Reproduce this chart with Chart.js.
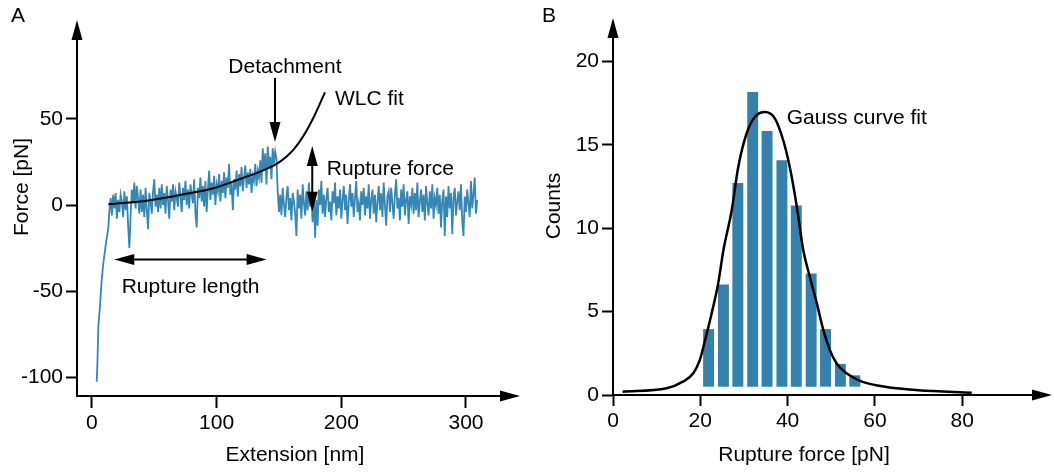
<!DOCTYPE html>
<html>
<head>
<meta charset="utf-8">
<script src="https://cdn.jsdelivr.net/npm/chart.js@4.4.1/dist/chart.umd.min.js"></script>
<style>
  html, body { margin: 0; padding: 0; background: #fff; }
  #wrap { display: flex; width: 1054px; height: 475px; }
</style>
</head>
<body>
<div id="wrap">
  <canvas id="forceCurveChart" width="527" height="475"></canvas>
  <canvas id="histogramChart" width="527" height="475"></canvas>
</div>
<script>
// ---- panel A: force-extension curve ----
const APPROACH_EXT = [3.8, 4.4, 5.1, 6.4, 7.8, 9.1, 11.2, 13.1];
const APPROACH_FORCE = [-102.7, -91.1, -70.8, -59.1, -43.6, -33.9, -22.3, -13.4];

// retract trace, one sample per nm starting at 14 nm
const TRACE_START = 14;
const TRACE_STEP = 1;
const TRACE_FORCE = [
  -3, 4, -6, 6, -2, 7, -8, 3, -4, 6,
  2, -7, 8, -3, 5, -12, -25, -6, 9, 1,
  13, -2, 11, 4, -5, 9, -4, 6, -7, 10,
  -3, -14, 7, 2, -5, 8, 15, -1, 6, -4,
  10, -2, 12, 0, 7, -5, 11, 3, -8, 9,
  2, 12, -3, 8, 4, -1, 13, 5, -4, 10,
  3, 14, 0, 9, -2, 12, 6, 1, 15, -5,
  -13, 10, 4, 16, 2, 11, -1, 14, -4, 9,
  20, 3, 13, 6, 17, 0, 12, 8, 18, 2,
  14, 7, 19, 4, 16, 10, 24, 6, 13, -3,
  15, 9, 20, 5, 18, 11, 22, 8, 16, 23,
  10, 19, 12, 21, 7, 17, 14, 24, 11, 20,
  16, 26, 13, 33, 20, 30, 12, 34, 22, 28,
  15, 33, 24, 31, 27,
  8, -4, 6, -6, 10, 0, -7, 5, 11, -3,
  4, -9, 7, 2, -5, -18, 9, -2, 6, -8,
  12, 1, -6, 8, -3, 13, -1, 5, -10, 7,
  -19, 3, -12, 9, 0, 14, -5, 6, -7, 4,
  10, -4, 2, -9, 8, 1, 13, -6, 5, -2,
  9, -8, 3, 11, -3, 6, -11, 2, 12, -1,
  7, -7, 4, 14, -4, 1, -9, 8, 0, 10,
  -6, 5, -2, 12, -8, 3, 9, -5, 6, -10,
  2, 11, -3, 7, -7, 13, 0, -12, 5, 8,
  -4, 10, 1, -8, 6, 15, -2, 4, -9, 9,
  -1, 12, -6, 3, 8, -11, 5, 0, 10, -5,
  7, -3, 13, -7, 2, 9, -4, 6, -9, 11,
  1, -6, 8, -2, 12, -8, 4, 0, 10, -5,
  6, -13, 3, 9, -18, 5, -7, 11, -2, 7,
  -17, 4, 10, -6, 2, 8, -3, 12, -9, -18,
  5, -4, 9, 1, -7, 14, -2, 6, 16, -5,
  3
];

const WLC_EXT = [13.1, 30, 43.9, 70.6, 97.3, 124, 132, 140, 146, 152, 157, 162, 167, 172, 177, 182, 186.9];
const WLC_FORCE = [0.4, 1.4, 2.5, 5.8, 9.7, 16.5, 18.5, 21, 23, 25.8, 28.8, 32.5, 37.3, 43, 49.8, 57.5, 65.5];

const EXT_TICKS = [0, 100, 200, 300];
const FORCE_TICKS = [-100, -50, 0, 50];

// ---- panel B: rupture force histogram ----
const BIN_CENTERS = [21.9, 25.3, 28.6, 32.0, 35.3, 38.7, 42.0, 45.4, 48.7, 52.1, 55.4];
const COUNTS = [3.95, 6.63, 12.71, 18.16, 15.83, 14.07, 11.36, 7.29, 3.95, 1.86, 1.18];
const BAR_BASE = 0.5;

const GAUSS_FORCE = [2.2, 12.3, 16.0, 18.4, 19.9, 21.1, 22.6, 24.1, 25.3, 27.2, 28.7, 30.6, 32.5, 34.8,
  37.1, 39.0, 40.5, 42.0, 43.6, 45.1, 46.7, 48.2, 49.7, 51.2, 53.5, 56.6, 60.0, 65.0, 70.0, 82.2];
const GAUSS_COUNTS = [0.20, 0.40, 0.80, 1.30, 2.10, 3.29, 4.89, 6.69, 8.68, 11.08, 13.67, 15.67, 16.66, 16.96,
  16.57, 15.27, 13.67, 11.48, 8.68, 7.08, 5.49, 3.89, 2.69, 1.90, 1.30, 0.85, 0.60, 0.40, 0.28, 0.14];

const RUPTURE_TICKS = [0, 20, 40, 60, 80];
const COUNT_TICKS = [0, 5, 10, 15, 20];

const TRACE_COLOR = "#3587b4";
const BAR_COLOR = "#3482ac";
const FAMILY = "'Liberation Sans', Arial, sans-serif";
const FONT = "21px " + FAMILY;

Chart.defaults.font.family = FAMILY;
Chart.defaults.color = "#000";

function arrowHead(ctx, tipX, tipY, dx, dy) {
  const len = 20, half = 5.5;
  const bx = tipX - dx * len, by = tipY - dy * len;
  ctx.beginPath();
  ctx.moveTo(tipX, tipY);
  ctx.lineTo(bx - dy * half, by + dx * half);
  ctx.lineTo(bx + dy * half, by - dx * half);
  ctx.closePath();
  ctx.fill();
}

function arrow(ctx, x1, y1, x2, y2, both) {
  const d = Math.hypot(x2 - x1, y2 - y1);
  const dx = (x2 - x1) / d, dy = (y2 - y1) / d;
  ctx.beginPath();
  ctx.moveTo(both ? x1 + dx * 18 : x1, both ? y1 + dy * 18 : y1);
  ctx.lineTo(x2 - dx * 18, y2 - dy * 18);
  ctx.stroke();
  arrowHead(ctx, x2, y2, dx, dy);
  if (both) arrowHead(ctx, x1, y1, -dx, -dy);
}

function axisArrows(ctx, area) {
  ctx.fillStyle = "#000";
  arrowHead(ctx, area.left, area.top - 20, 0, -1);
  arrowHead(ctx, area.right + 20, area.bottom, 1, 0);
}

function rotatedText(ctx, text, x, y) {
  ctx.save();
  ctx.translate(x, y);
  ctx.rotate(-Math.PI / 2);
  ctx.textAlign = "center";
  ctx.fillText(text, 0, 0);
  ctx.restore();
}

function axisScale(min, max, ticks, opts) {
  return {
    type: "linear",
    min,
    max,
    offset: false,
    afterBuildTicks: (s) => { s.ticks = ticks.map((v) => ({ value: v })); },
    border: { display: true, color: "#000", width: 2 },
    grid: { display: true, offset: false, drawOnChartArea: false, drawTicks: true,
      tickLength: opts.tickLength, tickWidth: 2, tickColor: "#000" },
    ticks: { font: { size: 21 }, color: "#000", padding: 3, maxRotation: 0 },
    afterFit: opts.afterFit,
  };
}

const panelA = {
  id: "panelA",
  afterDraw(chart) {
    const { ctx, chartArea, scales: { x, y } } = chart;
    const px = (v) => x.getPixelForValue(v);
    const py = (v) => y.getPixelForValue(v);
    ctx.save();
    axisArrows(ctx, chartArea);
    ctx.strokeStyle = "#000";
    ctx.lineWidth = 2;
    arrow(ctx, px(146.8), py(73.8), px(146.8), py(36.6), false);
    arrow(ctx, px(176.7), py(-3.9), px(176.7), py(34.3), true);
    arrow(ctx, px(17.9), py(-31.6), px(140.1), py(-31.6), true);

    ctx.font = FONT;
    ctx.textBaseline = "alphabetic";
    ctx.textAlign = "center";
    ctx.fillText("Detachment", px(154.8), py(76.7));
    ctx.fillText("Extension [nm]", 295, 461);
    ctx.textAlign = "left";
    ctx.fillText("WLC fit", px(194.9), py(58.1));
    ctx.fillText("Rupture force", px(188.3), py(17.4));
    ctx.fillText("Rupture length", px(23.8), py(-51.3));
    ctx.fillText("A", 11, 22);
    rotatedText(ctx, "Force [pN]", 27.5, 187);
    ctx.restore();
  },
};

const panelB = {
  id: "panelB",
  afterDraw(chart) {
    const { ctx, chartArea, scales: { x, y } } = chart;
    ctx.save();
    axisArrows(ctx, chartArea);
    ctx.font = FONT;
    ctx.fillStyle = "#000";
    ctx.textAlign = "left";
    ctx.fillText("Gauss curve fit", x.getPixelForValue(39.8), y.getPixelForValue(16.25));
    ctx.fillText("B", 15, 22);
    ctx.textAlign = "center";
    ctx.fillText("Rupture force [pN]", 277, 461);
    rotatedText(ctx, "Counts", 33, 206);
    ctx.restore();
  },
};

const tracePoints = APPROACH_EXT.map((e, i) => ({ x: e, y: APPROACH_FORCE[i] }))
  .concat(TRACE_FORCE.map((f, i) => ({ x: TRACE_START + i * TRACE_STEP, y: f })));

new Chart(document.getElementById("forceCurveChart"), {
  type: "line",
  data: {
    datasets: [
      {
        label: "WLC fit",
        data: WLC_EXT.map((e, i) => ({ x: e, y: WLC_FORCE[i] })),
        borderColor: "#000",
        borderWidth: 2,
        pointRadius: 0,
        cubicInterpolationMode: "monotone",
      },
      {
        label: "Retract trace",
        data: tracePoints,
        borderColor: TRACE_COLOR,
        borderWidth: 1.8,
        pointRadius: 0,
        tension: 0,
      },
    ],
  },
  options: {
    responsive: false,
    animation: false,
    layout: { padding: { top: 40, right: 27, bottom: 0, left: 0 } },
    scales: {
      x: axisScale(-12, 327.3, EXT_TICKS, { tickLength: 12, afterFit: (s) => { s.height = 79; } }),
      y: axisScale(-111, 95.9, FORCE_TICKS, { tickLength: 11, afterFit: (s) => { s.width = 77; } }),
    },
    plugins: { legend: { display: false }, tooltip: { enabled: false } },
  },
  plugins: [panelA],
});

new Chart(document.getElementById("histogramChart"), {
  type: "bar",
  data: {
    datasets: [
      {
        type: "line",
        label: "Gauss curve fit",
        data: GAUSS_FORCE.map((f, i) => ({ x: f, y: GAUSS_COUNTS[i] })),
        borderColor: "#000",
        borderWidth: 2.5,
        pointRadius: 0,
        cubicInterpolationMode: "monotone",
      },
      {
        type: "bar",
        label: "Counts",
        data: BIN_CENTERS.map((c, i) => ({ x: c, y: [BAR_BASE, COUNTS[i]] })),
        backgroundColor: BAR_COLOR,
        borderWidth: 0,
        barPercentage: 0.76,
        categoryPercentage: 1,
      },
    ],
  },
  options: {
    responsive: false,
    animation: false,
    layout: { padding: { top: 38, right: 22, bottom: 0, left: 0 } },
    scales: {
      x: axisScale(0, 96, RUPTURE_TICKS, { tickLength: 11, afterFit: (s) => { s.height = 80; } }),
      y: axisScale(0, 21.4, COUNT_TICKS, { tickLength: 11, afterFit: (s) => { s.width = 86; } }),
    },
    plugins: { legend: { display: false }, tooltip: { enabled: false } },
  },
  plugins: [panelB],
});
</script>
</body>
</html>
